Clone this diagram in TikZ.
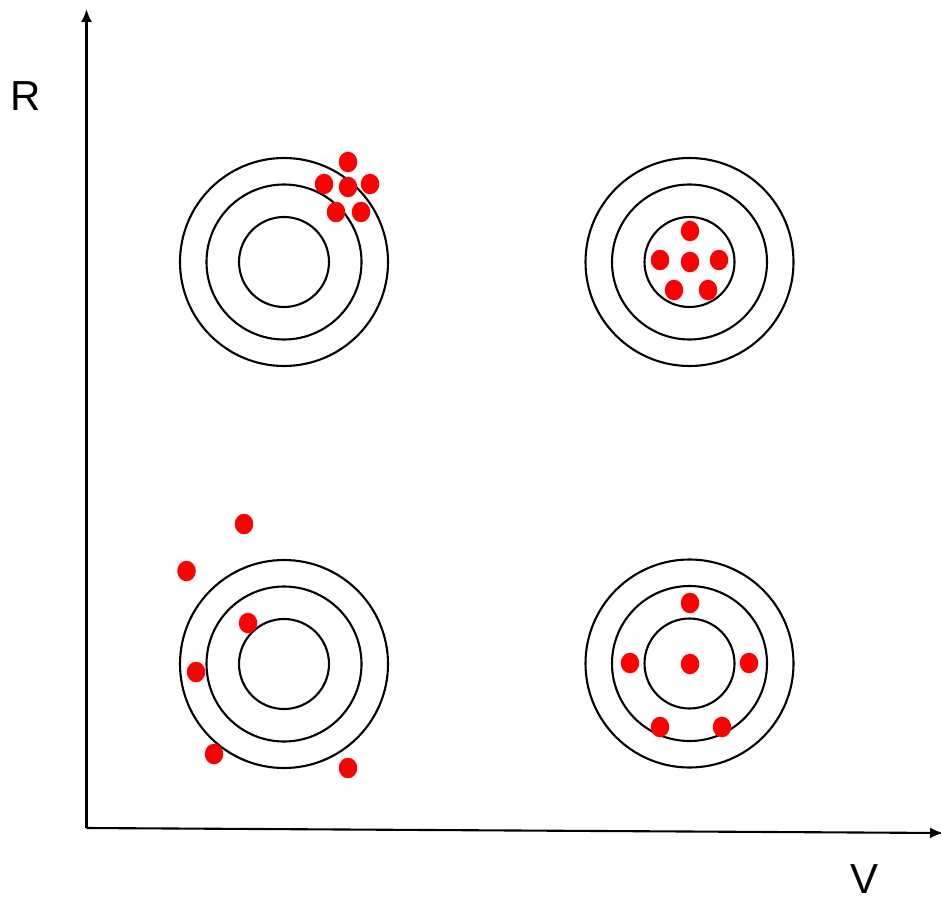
\documentclass[tikz,border=0pt]{standalone}
\usepackage{fontspec}
\setmainfont{Liberation Sans}
\usetikzlibrary{arrows.meta,shapes.geometric}
\tikzset{
  axisline/.style={line width=2.1pt, -{Latex[length=13pt,width=11pt]}},
  ring/.style={circle, draw=black, line width=2.1pt, inner sep=0pt},
  outerring/.style={ring, minimum size=208pt},
  midring/.style={ring, minimum size=155pt},
  innerring/.style={ring, minimum size=90pt},
  hit/.style={ellipse, fill=red, draw=none, inner sep=0pt, minimum width=18.5pt, minimum height=20.5pt},
  axlabel/.style={font=\fontsize{42}{50}\selectfont, inner sep=0pt}
}
\begin{document}
\begin{tikzpicture}[x=1pt,y=-1pt]
\useasboundingbox (0,0) rectangle (941,901);
% axes
\coordinate (O) at (86.5,828);
\coordinate (Ytop) at (86.5,9);
\coordinate (Xend) at (943,833);
\draw[axisline] (O) -- (Ytop);
\draw[axisline] (O) -- (Xend);
\node[axlabel] (R) at (25.5,96) {R};
\node[axlabel] (V) at (864,879) {V};
% targets
\foreach \n/\cx/\cy in {tl/284/262, tr/689.5/262, bl/284/664, br/689.5/663.5}{
  \node[outerring] (\n o) at (\cx,\cy) {};
  \node[midring] (\n m) at (\cx,\cy) {};
  \node[innerring] (\n i) at (\cx,\cy) {};
}
% hits top-left
\node[hit] (a1) at (348,162) {};
\node[hit] (a2) at (324,184) {};
\node[hit] (a3) at (348,187) {};
\node[hit] (a4) at (370,184) {};
\node[hit] (a5) at (336,212) {};
\node[hit] (a6) at (361,212) {};
% hits top-right
\node[hit] (b1) at (690,231) {};
\node[hit] (b2) at (660,260) {};
\node[hit] (b3) at (690,262) {};
\node[hit] (b4) at (719,260) {};
\node[hit] (b5) at (674,290) {};
\node[hit] (b6) at (708,290) {};
% hits bottom-left
\node[hit] (c1) at (244,524) {};
\node[hit] (c2) at (186.5,571) {};
\node[hit] (c3) at (248,623) {};
\node[hit] (c4) at (196,672) {};
\node[hit] (c5) at (214,754) {};
\node[hit] (c6) at (348,768) {};
% hits bottom-right
\node[hit] (d1) at (690,603) {};
\node[hit] (d2) at (630,663) {};
\node[hit] (d3) at (690,664) {};
\node[hit] (d4) at (749,663) {};
\node[hit] (d5) at (660,727) {};
\node[hit] (d6) at (722,727) {};
\end{tikzpicture}
\end{document}
